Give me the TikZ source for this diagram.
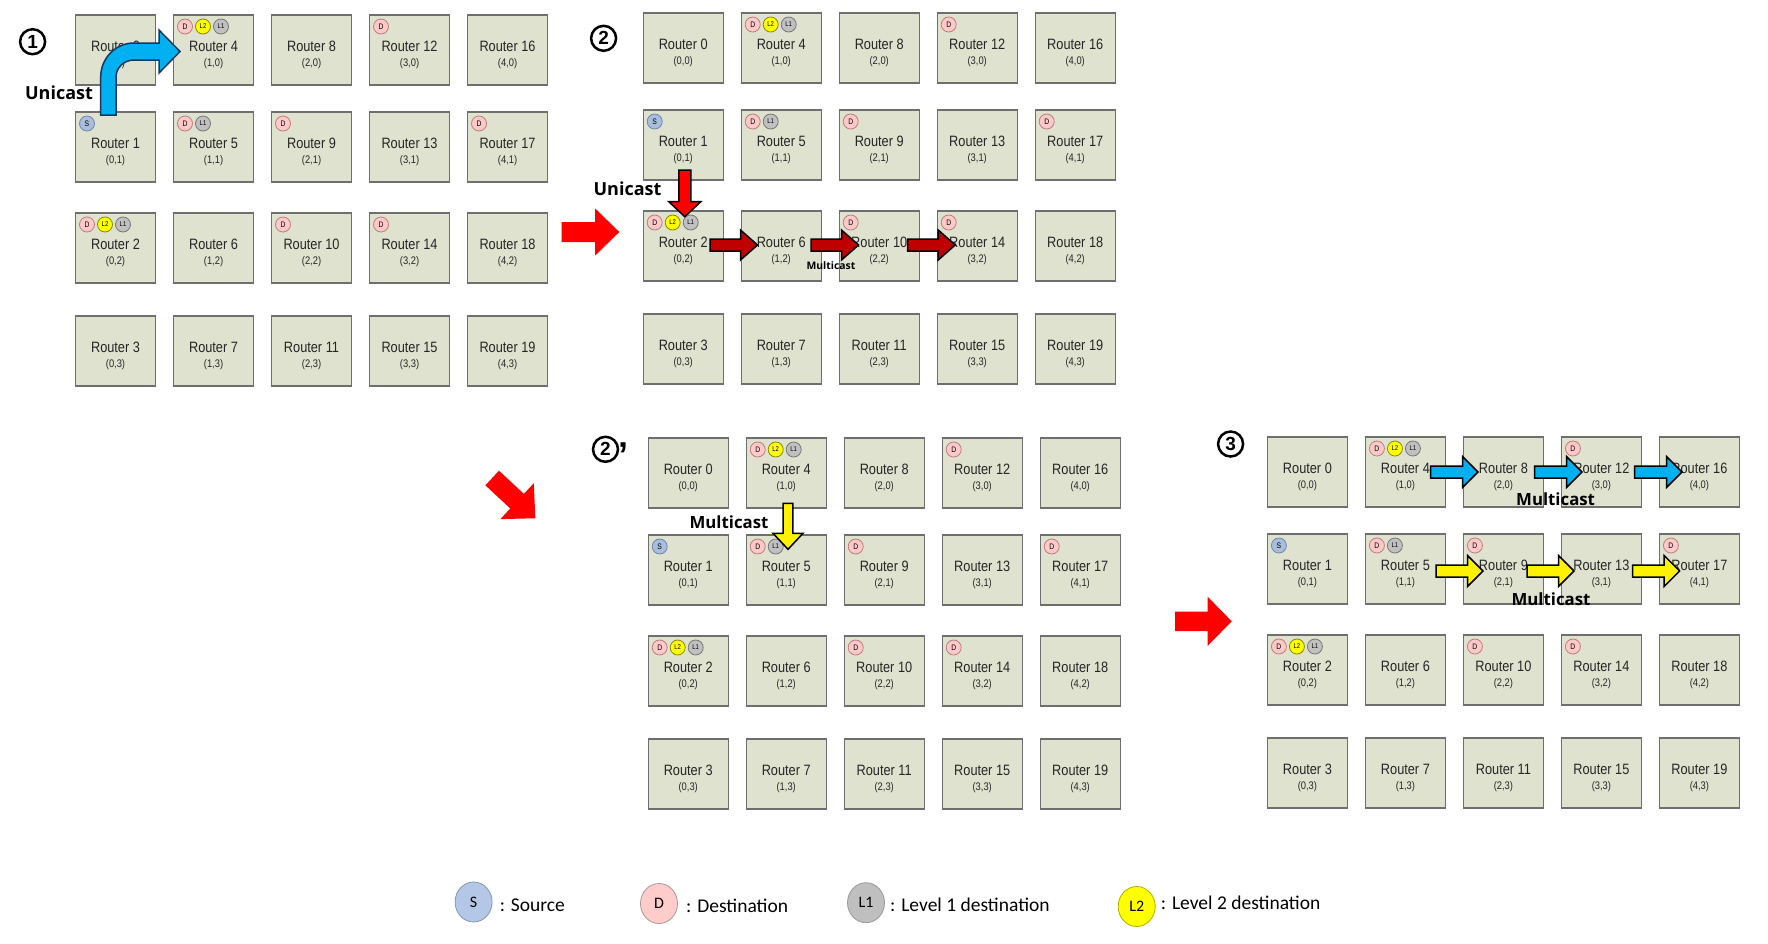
\documentclass[tikz,border=0pt]{standalone}
\usepackage{fontspec}
\setmainfont{Liberation Sans}
\newfontfamily\rfont[FakeStretch=0.85]{Liberation Sans}
\newfontfamily\boldfont{Open Sans}
\newfontfamily\legfont{Carlito}
\usetikzlibrary{calc,shapes.geometric}
\definecolor{boxfill}{HTML}{DEE2CE}
\definecolor{boxline}{HTML}{6E6E6E}
\definecolor{dfill}{HTML}{FFC9C9}
\definecolor{dline}{HTML}{C07C7C}
\definecolor{sfill}{HTML}{A9BEDD}
\definecolor{sline}{HTML}{6F86AD}
\definecolor{lonefill}{HTML}{C0C0C0}
\definecolor{loneline}{HTML}{777777}
\definecolor{ltwofill}{HTML}{FFFF00}
\definecolor{ltwoline}{HTML}{8A8A00}
\definecolor{cyanarrow}{HTML}{00B0F0}
\definecolor{navyline}{HTML}{17375E}
\definecolor{darkred}{HTML}{C00000}
\definecolor{legS}{HTML}{B4C7E7}
\definecolor{legSline}{HTML}{8497B0}
\definecolor{legD}{HTML}{FFCCCC}
\definecolor{legDline}{HTML}{A89898}
\definecolor{legL}{HTML}{BFBFBF}
\definecolor{legLline}{HTML}{999999}
\definecolor{legY}{HTML}{FFFF00}
\definecolor{legYline}{HTML}{B0B000}

\tikzset{
  router/.style={draw=boxline, fill=boxfill, line width=1.3pt, minimum width=80pt, minimum height=70pt, inner sep=0pt, outer sep=0pt},
  rlabel/.style={font=\rfont\fontsize{15}{15}\selectfont, text=black!85, inner sep=0pt},
  clabel/.style={font=\rfont\fontsize{11}{11}\selectfont, text=black!85, inner sep=0pt},
  badge/.style={circle, minimum size=15pt, inner sep=0pt, line width=0.8pt, font=\rfont\fontsize{8}{8}\selectfont},
  bD/.style={badge, fill=dfill, draw=dline},
  bS/.style={badge, fill=sfill, draw=sline},
  bLone/.style={badge, fill=lonefill, draw=loneline, font=\rfont\fontsize{7}{7}\selectfont},
  bLtwo/.style={badge, fill=ltwofill, draw=ltwoline, font=\rfont\fontsize{7}{7}\selectfont},
  bigred/.style={fill=red, draw=none},
  redarrow/.style={fill=red, draw=black, line width=1.5pt, line join=miter},
  dredarrow/.style={fill=darkred, draw=black, line width=1.5pt, line join=miter},
  yelarrow/.style={fill=yellow, draw=black, line width=1.5pt, line join=miter},
  bluearrow/.style={fill=cyanarrow, draw=black, line width=1.5pt, line join=miter},
  bentarrow/.style={fill=cyanarrow, draw=navyline, line width=1.5pt, line join=miter},
  bigtxt/.style={font=\boldfont\bfseries\fontsize{18}{18}\selectfont, inner sep=0pt},
  midtxt/.style={font=\boldfont\bfseries\fontsize{16.8}{16.8}\selectfont, inner sep=0pt},
  smalltxt/.style={font=\boldfont\bfseries\fontsize{10.4}{10.4}\selectfont, inner sep=0pt},
  stepnum/.style={circle, draw=black, line width=2.5pt, minimum size=25pt, inner sep=0pt, font=\bfseries\fontsize{19}{19}\selectfont},
  legell/.style={ellipse, minimum width=37pt, minimum height=40pt, inner sep=0pt, line width=0.8pt, font=\legfont\fontsize{16}{16}\selectfont},
  legtxt/.style={font=\legfont\fontsize{19.5}{19.5}\selectfont, inner sep=0pt, anchor=west}
}

% one panel of 20 routers: #1 prefix, #2 x of left edge, #3 y of top edge
\newcommand{\drawpanel}[3]{%
  \foreach \c in {0,...,4}{%
    \foreach \r/\yo in {0/0,1/97,2/198,3/301}{%
      \pgfmathtruncatemacro{\n}{4*\c+\r}%
      \node[router] (#1r\n) at ({#2+\c*98+40},{#3+\yo+35}) {};%
      \node[rlabel] (#1l\n) at ($(#1r\n.north)+(0,31.5)$) {Router \n};%
      \node[clabel] (#1c\n) at ($(#1r\n.north)+(0,48.5)$) {(\c,\r)};%
    }%
  }%
  \bdg{#1}{1}{0}{bS}{S}%
  \bdg{#1}{2}{0}{bD}{D}\bdg{#1}{2}{1}{bLtwo}{L2}\bdg{#1}{2}{2}{bLone}{L1}%
  \bdg{#1}{4}{0}{bD}{D}\bdg{#1}{4}{1}{bLtwo}{L2}\bdg{#1}{4}{2}{bLone}{L1}%
  \bdg{#1}{5}{0}{bD}{D}\bdg{#1}{5}{1}{bLone}{L1}%
  \bdg{#1}{9}{0}{bD}{D}%
  \bdg{#1}{10}{0}{bD}{D}%
  \bdg{#1}{12}{0}{bD}{D}%
  \bdg{#1}{14}{0}{bD}{D}%
  \bdg{#1}{17}{0}{bD}{D}%
}
% badge: #1 prefix, #2 router, #3 index, #4 style, #5 text
\newcommand{\bdg}[5]{%
  \node[#4] (#1b#2n#3) at ($(#1r#2.north west)+({11.5+18*#3},11.5)$) {#5};%
}
% block arrow: #1 style, #2 tail centre, #3 rotation, #4 shaft length, #5 head length, #6 shaft half width, #7 head half width
\newcommand{\blockarrow}[7]{%
  \path[#1, shift={#2}, rotate=#3] (0,-#6) -- (#4,-#6) -- (#4,-#7) -- ({#4+#5},0) -- (#4,#7) -- (#4,#6) -- (0,#6) -- cycle;%
}

\begin{document}
\begin{tikzpicture}[x=1pt,y=-1pt]
\fill[white] (0,0) rectangle (1768,943);
\useasboundingbox (0,0) rectangle (1768,943);

\drawpanel{pa}{75.5}{15}
\drawpanel{pb}{643.2}{13}
\drawpanel{pc}{648.2}{438}
\drawpanel{pd}{1267.4}{437}

% step numbers
\node[stepnum] (n1) at (32.6,41.7) {1};
\node[stepnum] (n2) at (603.6,38.3) {2};
\node[stepnum] (n2p) at (605.5,449.3) {2};
\node[font=\bfseries\fontsize{36}{36}\selectfont, inner sep=0pt, anchor=base west] (n2pq) at (618.5,467) {’};
\node[stepnum] (n3) at (1230.6,444) {3};

% big red arrows between panels
\blockarrow{bigred}{(561.7,232)}{0}{33.3}{24.3}{10}{23.7}
\blockarrow{bigred}{(492.2,478)}{-43}{34}{25}{10}{24.5}
\blockarrow{bigred}{(1175,621.3)}{0}{32.7}{24}{9.7}{24.5}

% panel 1: bent unicast arrow
\draw[bentarrow] (100.7,115) -- (100.7,77)
  arc[start angle=180, end angle=90, x radius=33.3pt, y radius=34pt]
  -- (159,43) -- (159,30) -- (180,51.5) -- (159,73) -- (159,60) -- (134,60)
  arc[start angle=90, end angle=180, x radius=18pt, y radius=17pt]
  -- (116,115) -- cycle;
\node[bigtxt] (ua) at (59,93) {Unicast};

% panel 2
\blockarrow{redarrow}{(684.8,170)}{-90}{31.7}{15}{6}{16}
\node[bigtxt] (ub) at (627.5,189) {Unicast};
\blockarrow{dredarrow}{(710,245)}{0}{30.5}{17}{6}{15}
\blockarrow{dredarrow}{(811,245)}{0}{30.5}{17}{6}{15}
\blockarrow{dredarrow}{(907.7,245)}{0}{30.5}{17}{6}{15}
\node[smalltxt] (mb) at (831,266) {Multicast};

% panel 2'
\blockarrow{yelarrow}{(788,503.3)}{-90}{30}{16}{4.8}{15}
\node[midtxt] (mc) at (729,521.7) {Multicast};

% panel 3
\blockarrow{bluearrow}{(1430.5,472)}{0}{32}{15.5}{6}{15.5}
\blockarrow{bluearrow}{(1534.5,472)}{0}{32}{15.5}{6}{15.5}
\blockarrow{bluearrow}{(1634.5,472)}{0}{32}{15.5}{6}{15.5}
\blockarrow{yelarrow}{(1436,571)}{0}{31.5}{15.5}{6}{15.5}
\blockarrow{yelarrow}{(1527,571)}{0}{31.5}{15.5}{6}{15.5}
\blockarrow{yelarrow}{(1632.6,571)}{0}{31.5}{15.5}{6}{15.5}
\node[midtxt] (md1) at (1555.6,499.3) {Multicast};
\node[midtxt] (md2) at (1551,599) {Multicast};

% legend
\node[legell, fill=legS, draw=legSline] (lgS) at (473.6,902) {S};
\node[legtxt] (lgSt) at (499.6,905) {: Source};
\node[legell, fill=legD, draw=legDline] (lgD) at (659,903.5) {D};
\node[legtxt] (lgDt) at (686,906) {: Destination};
\node[legell, fill=legL, draw=legLline] (lgL) at (866,902.7) {L1};
\node[legtxt] (lgLt) at (890,905) {: Level 1 destination};
\node[legell, fill=legY, draw=legYline] (lgY) at (1136.7,906.5) {L2};
\node[legtxt] (lgYt) at (1160.7,902.7) {: Level 2 destination};
\end{tikzpicture}
\end{document}
